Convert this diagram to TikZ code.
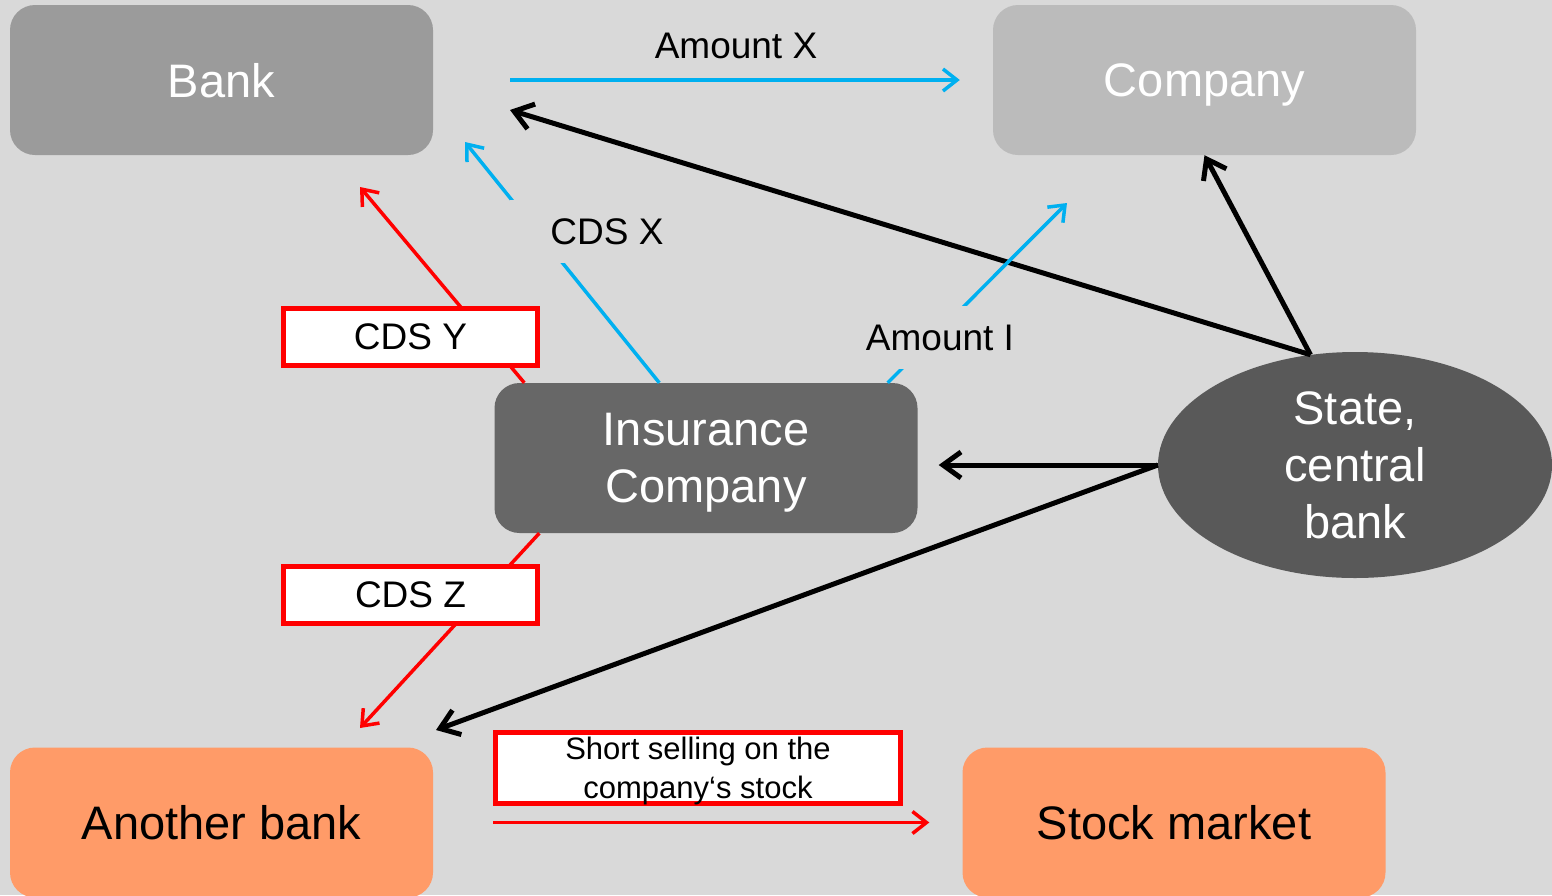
\documentclass[tikz,border=0pt]{standalone}
\usepackage{fontspec}
\setmainfont{Liberation Sans}
\usetikzlibrary{arrows.meta,shapes.geometric,calc}
\definecolor{bg}{HTML}{D9D9D9}
\definecolor{bankc}{HTML}{9B9B9B}
\definecolor{compc}{HTML}{BBBBBB}
\definecolor{insc}{HTML}{676767}
\definecolor{statec}{HTML}{595959}
\definecolor{orangec}{HTML}{FF9B68}
\definecolor{bluec}{HTML}{00B0F0}
\definecolor{redc}{HTML}{FF0000}
\begin{document}
\begin{tikzpicture}[x=1pt,y=-1pt,
  mainbox/.style={rectangle, rounded corners=25pt, minimum width=423pt, minimum height=150pt, inner sep=0pt, align=center, text depth=0pt, font=\fontsize{47}{57}\selectfont},
  redbox/.style={rectangle, draw=redc, line width=5pt, fill=white, inner sep=0pt, align=center},
  gaplabel/.style={rectangle, fill=bg, inner sep=0pt, minimum height=63pt, font=\fontsize{37}{44}\selectfont},
  blk/.style={draw=black, line width=5pt, -{Straight Barb[length=18pt,width=26pt]}},
  blu/.style={draw=bluec, line width=3.5pt, -{Straight Barb[length=14pt,width=22pt]}},
  rd/.style={draw=redc, line width=3.5pt, -{Straight Barb[length=14pt,width=22pt]}}
]
\fill[bg] (0,0) rectangle (1552,895);
\useasboundingbox (0,0) rectangle (1552,895);

% main nodes
\node[mainbox, fill=bankc, text=white] (bank) at (221.5,80) {Bank};
\node[mainbox, fill=compc, text=white] (company) at (1204.5,80) {Company};
\node[mainbox, fill=insc, text=white] (ins) at (706,458) {Insurance\\Company};
\node[mainbox, fill=orangec, text=black] (ab) at (221.5,822.5) {Another bank};
\node[mainbox, fill=orangec, text=black] (sm) at (1174,822.5) {Stock market};
\node[ellipse, fill=statec, text=white, minimum width=394pt, minimum height=226pt, inner sep=0pt, align=center, text depth=0pt, font=\fontsize{47}{57}\selectfont] (state) at (1355,465) {State,\\central\\bank};

% free ends
\coordinate (bankTipK) at (510,110);
\coordinate (abTipK) at (436,730);
\coordinate (bankTipB) at (465,142);
\coordinate (compTipB) at (1067,203);
\coordinate (bankTipR) at (360,187);
\coordinate (abTipR) at (360,728);

% connectors
\draw[blu, shorten <=77pt, shorten >=33pt] (bank.east) -- (company.west);
\node[inner sep=0pt, anchor=base, font=\fontsize{37}{44}\selectfont] (amx) at (736,58) {Amount X};
\draw[blk] (state.112) -- (bankTipK);
\draw[blk] (state.112) -- (company.south);
\draw[blk, shorten >=21pt] (state.west) -- (state.west -| ins.east);
\draw[blk] (state.west) -- (abTipK);
\draw[blu] ($(ins.north west)+(165,0)$) -- (bankTipB);
\draw[blu] ($(ins.north east)+(-30,0)$) -- (compTipB);
\draw[rd] ($(ins.north west)+(30,0)$) -- (bankTipR);
\draw[rd] ($(ins.south west)+(45,0)$) -- (abTipR);
\draw[rd, shorten <=60pt, shorten >=33pt] (ab.east) -- (sm.west);

% labels
\node[gaplabel, minimum width=194pt] (cdsx) at (607,231.5) {CDS X};
\node[gaplabel, minimum width=160pt] (amti) at (940,337.5) {Amount I};
\node[redbox, minimum width=254pt, minimum height=57pt, font=\fontsize{37}{44}\selectfont] (cdsy) at (410.5,337) {CDS Y};
\node[redbox, minimum width=254pt, minimum height=57pt, font=\fontsize{37}{44}\selectfont] (cdsz) at (410.5,595) {CDS Z};
\node[redbox, minimum width=405pt, minimum height=71pt, text depth=0pt, font=\fontsize{31}{39}\selectfont] (short) at (698,768) {Short selling on the\\company‘s stock};
\end{tikzpicture}
\end{document}
